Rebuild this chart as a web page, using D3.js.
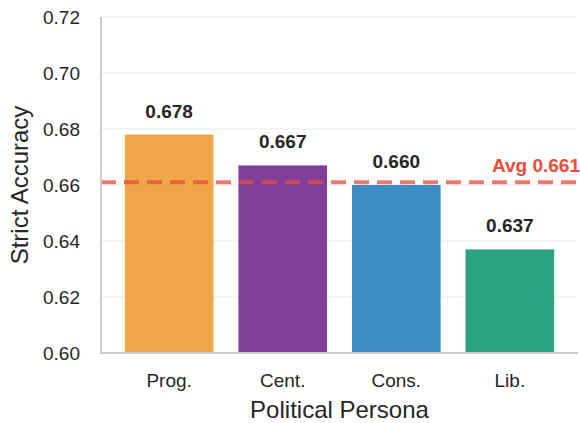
<!DOCTYPE html>
<html>
<head>
<meta charset="utf-8">
<script src="https://cdn.jsdelivr.net/npm/d3@7"></script>
<style>
  body { margin: 0; background: #fff; }
  text { font-family: "Liberation Sans", Arial, sans-serif; }
</style>
</head>
<body>
<div id="chart-container"></div>
<script>
// data
const categories = ["Prog.", "Cent.", "Cons.", "Lib."];
const accuracy = [0.678, 0.667, 0.660, 0.637];
const barColors = ["#F0A54A", "#803E98", "#3C8DC3", "#29A47E"];
const avgValue = 0.661;
const yTicks = [0.60, 0.62, 0.64, 0.66, 0.68, 0.70, 0.72];

const W = 580, H = 423;
const plot = { left: 101, right: 578, top: 17, bottom: 353 };

const svg = d3
  .select("#chart-container")
  .append("svg")
  .attr("width", W)
  .attr("height", H);

// scales
const xScale = d3
  .scaleBand()
  .domain(categories)
  .range([plot.left, plot.right])
  .paddingInner(0.22)
  .paddingOuter(0.21);

const yScale = d3.scaleLinear().domain([0.6, 0.72]).range([plot.bottom, plot.top]);

// horizontal gridlines
svg
  .selectAll(".ygrid")
  .data(yTicks.slice(1))
  .join("line")
  .attr("x1", plot.left)
  .attr("x2", plot.right)
  .attr("y1", (d) => yScale(d))
  .attr("y2", (d) => yScale(d))
  .attr("stroke", "#ebebeb")
  .attr("stroke-width", 1);

// y-axis
const yAxis = d3
  .axisLeft(yScale)
  .tickValues(yTicks)
  .tickFormat(d3.format(".2f"))
  .tickSize(0)
  .tickPadding(21);
svg
  .append("g")
  .attr("transform", `translate(${plot.left}, 0)`)
  .call(yAxis)
  .call((g) => g.select(".domain").remove())
  .selectAll(".tick text")
  .style("font-size", "19px")
  .attr("fill", "#262626");

// x-axis
const xAxis = d3.axisBottom(xScale).tickSize(0).tickPadding(21);
svg
  .append("g")
  .attr("transform", `translate(0, ${plot.bottom})`)
  .call(xAxis)
  .call((g) => g.select(".domain").remove())
  .selectAll(".tick text")
  .style("font-size", "19px")
  .attr("fill", "#262626");

// bars
svg
  .selectAll(".bar")
  .data(categories)
  .join("rect")
  .attr("x", (d) => xScale(d))
  .attr("width", xScale.bandwidth())
  .attr("y", (d, i) => yScale(accuracy[i]))
  .attr("height", (d, i) => yScale(0.6) - yScale(accuracy[i]))
  .attr("fill", (d, i) => barColors[i]);

// value labels
svg
  .selectAll(".val")
  .data(categories)
  .join("text")
  .attr("x", (d) => xScale(d) + xScale.bandwidth() / 2)
  .attr("y", (d, i) => yScale(accuracy[i]) - 17)
  .attr("text-anchor", "middle")
  .style("font-size", "19px")
  .style("font-weight", "bold")
  .attr("fill", "#262626")
  .text((d, i) => accuracy[i].toFixed(3));

// average line
svg
  .append("line")
  .attr("x1", plot.left)
  .attr("x2", plot.right)
  .attr("y1", yScale(avgValue))
  .attr("y2", yScale(avgValue))
  .attr("stroke", "#E74C3C")
  .attr("stroke-opacity", 0.75)
  .attr("stroke-width", 4)
  .attr("stroke-dasharray", "15,8");

svg
  .append("text")
  .attr("x", plot.right + 2)
  .attr("y", yScale(avgValue) - 10)
  .attr("text-anchor", "end")
  .style("font-size", "19px")
  .style("font-weight", "bold")
  .attr("fill", "#E74C3C")
  .text(`Avg ${avgValue.toFixed(3)}`);

// spines
svg
  .append("line")
  .attr("x1", plot.left)
  .attr("x2", plot.left)
  .attr("y1", plot.top)
  .attr("y2", plot.bottom)
  .attr("stroke", "#cccccc")
  .attr("stroke-width", 2);
svg
  .append("line")
  .attr("x1", plot.left - 1)
  .attr("x2", plot.right)
  .attr("y1", plot.bottom)
  .attr("y2", plot.bottom)
  .attr("stroke", "#cccccc")
  .attr("stroke-width", 2);

// axis labels
svg
  .append("text")
  .attr("transform", "rotate(-90)")
  .attr("x", -(plot.top + plot.bottom) / 2)
  .attr("y", 28)
  .attr("text-anchor", "middle")
  .style("font-size", "24px")
  .attr("fill", "#262626")
  .text("Strict Accuracy");

svg
  .append("text")
  .attr("x", (plot.left + plot.right) / 2)
  .attr("y", 418)
  .attr("text-anchor", "middle")
  .style("font-size", "24px")
  .attr("fill", "#262626")
  .text("Political Persona");
</script>
</body>
</html>
